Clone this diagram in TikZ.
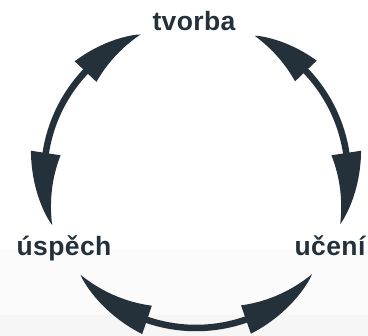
\documentclass[tikz,border=0pt]{standalone}
\usepackage{fontspec}
\setmainfont{Liberation Sans}
\newfontfamily\labfont[LetterSpace=1.5]{Liberation Sans}
\definecolor{ink}{HTML}{24303A}
\definecolor{bgA}{HTML}{FBFBFB}
\definecolor{bgB}{HTML}{F6F6F6}
\newcommand\R{152}
\newcommand\W{15}
\newcommand\curvhead[2]{%
  \fill[ink] plot[domain=0:1,samples=20] ({#1+(#2-#1)*\x}:{\R+\W*(1-\x)^0.85})
    -- plot[domain=1:0,samples=20] ({#1+(#2-#1)*\x}:{\R-\W*(1-\x)}) -- cycle;}
\tikzset{
  lab/.style={text=ink, font=\labfont\bfseries\fontsize{26.5}{30}\selectfont, inner sep=0pt, anchor=base},
  stem/.style={draw=ink, line width=6.5pt}
}
\begin{document}
\begin{tikzpicture}[x=1pt,y=1pt]
\useasboundingbox (0,0) rectangle (368,-336);
\fill[white] (0,0) rectangle (368,-250);
\fill[bgA] (0,-250) rectangle (368,-315);
\fill[bgB] (0,-315) rectangle (368,-336);
\coordinate (c) at (196,-176);
\node[lab] (tvorba) at (194,-31) {tvorba};
\node[lab] (uspech) at (64,-256) {úspěch};
\node[lab] (uceni) at (330,-256) {učení};
\begin{scope}[shift={(196,-176)}]
  % left arc: tvorba <-> úspěch
  \draw[stem] (134:\R) arc[start angle=134, end angle=174, radius=\R pt];
  \curvhead{136.6}{111.4}
  \curvhead{171.3}{198.8}
  % right arc: tvorba <-> učení
  \draw[stem] (46:\R) arc[start angle=46, end angle=6, radius=\R pt];
  \curvhead{43.7}{67.3}
  \curvhead{8.7}{-18.4}
  % bottom arc: úspěch <-> učení
  \draw[stem] (248:\R) arc[start angle=248, end angle=292, radius=\R pt];
  \curvhead{251.2}{220.5}
  \curvhead{289.2}{319.8}
\end{scope}
\end{tikzpicture}
\end{document}
